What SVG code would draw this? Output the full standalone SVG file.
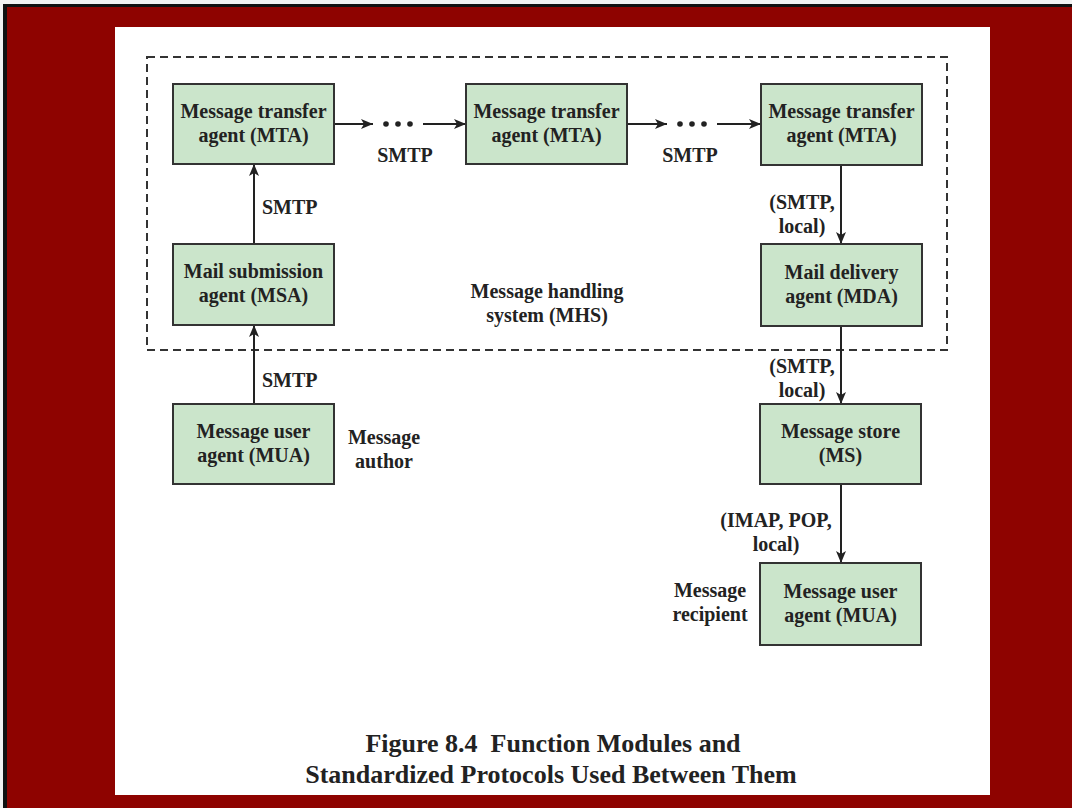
<svg xmlns="http://www.w3.org/2000/svg" width="1072" height="808" viewBox="0 0 1072 808">
  <style>
    .box { fill: #cbe5cb; stroke: #333333; stroke-width: 2; }
    .lbl { font-family: "Liberation Serif", "Times New Roman", serif; font-weight: bold; font-size: 20px; fill: #222222; }
    .mid { text-anchor: middle; }
    .cap { font-family: "Liberation Serif", "Times New Roman", serif; font-weight: bold; font-size: 26px; fill: #222222; text-anchor: middle; }
    .edge { stroke: #222222; stroke-width: 2; fill: none; }
    .dot { fill: #222222; }
  </style>
  <defs>
    <marker id="arrow" viewBox="0 0 12 10" refX="12" refY="5" markerWidth="12" markerHeight="10" markerUnits="userSpaceOnUse" orient="auto">
      <path d="M0,0 L12,5 L0,10 L3,5 Z" fill="#222222"/>
    </marker>
  </defs>

  <!-- frame -->
  <rect x="0" y="0" width="1072" height="808" fill="#f2f2f2"/>
  <rect x="3" y="4" width="1069" height="804" fill="#111111"/>
  <rect x="7" y="7" width="1065" height="801" fill="#8e0300"/>
  <rect x="115" y="27" width="875" height="768" fill="#ffffff"/>

  <!-- message handling system boundary -->
  <g id="mhs">
    <rect x="147" y="57" width="800" height="293" fill="none" stroke="#333333" stroke-width="2" stroke-dasharray="8,5"/>
    <text class="lbl mid" x="547" y="298">Message handling</text>
    <text class="lbl mid" x="547" y="322">system (MHS)</text>
  </g>

  <!-- connectors -->
  <g id="connectors">
    <line class="edge" x1="334" y1="124" x2="373" y2="124" marker-end="url(#arrow)"/>
    <circle class="dot" cx="386" cy="124" r="2.8"/>
    <circle class="dot" cx="398" cy="124" r="2.8"/>
    <circle class="dot" cx="410" cy="124" r="2.8"/>
    <line class="edge" x1="423" y1="124" x2="466" y2="124" marker-end="url(#arrow)"/>
    <text class="lbl mid" x="405" y="162">SMTP</text>

    <line class="edge" x1="627" y1="124" x2="667" y2="124" marker-end="url(#arrow)"/>
    <circle class="dot" cx="680" cy="124" r="2.8"/>
    <circle class="dot" cx="692" cy="124" r="2.8"/>
    <circle class="dot" cx="704" cy="124" r="2.8"/>
    <line class="edge" x1="717" y1="124" x2="761" y2="124" marker-end="url(#arrow)"/>
    <text class="lbl mid" x="690" y="162">SMTP</text>

    <line class="edge" x1="254" y1="244" x2="254" y2="164" marker-end="url(#arrow)"/>
    <text class="lbl" x="262" y="214">SMTP</text>

    <line class="edge" x1="254" y1="404" x2="254" y2="325" marker-end="url(#arrow)"/>
    <text class="lbl" x="262" y="387">SMTP</text>

    <line class="edge" x1="841" y1="165" x2="841" y2="244" marker-end="url(#arrow)"/>
    <text class="lbl mid" x="802" y="209">(SMTP,</text>
    <text class="lbl mid" x="802" y="233">local)</text>

    <line class="edge" x1="841" y1="326" x2="841" y2="404" marker-end="url(#arrow)"/>
    <text class="lbl mid" x="802" y="373">(SMTP,</text>
    <text class="lbl mid" x="802" y="397">local)</text>

    <line class="edge" x1="841" y1="484" x2="841" y2="563" marker-end="url(#arrow)"/>
    <text class="lbl mid" x="776" y="527">(IMAP, POP,</text>
    <text class="lbl mid" x="776" y="551">local)</text>
  </g>

  <!-- nodes -->
  <g id="mta1">
    <rect class="box" x="173" y="84" width="161" height="80"/>
    <text class="lbl mid" x="253.5" y="118">Message transfer</text>
    <text class="lbl mid" x="253.5" y="142">agent (MTA)</text>
  </g>
  <g id="mta2">
    <rect class="box" x="466" y="84" width="161" height="80"/>
    <text class="lbl mid" x="546.5" y="118">Message transfer</text>
    <text class="lbl mid" x="546.5" y="142">agent (MTA)</text>
  </g>
  <g id="mta3">
    <rect class="box" x="761" y="84" width="161" height="81"/>
    <text class="lbl mid" x="841.5" y="118">Message transfer</text>
    <text class="lbl mid" x="841.5" y="142">agent (MTA)</text>
  </g>
  <g id="msa">
    <rect class="box" x="173" y="244" width="161" height="81"/>
    <text class="lbl mid" x="253.5" y="278">Mail submission</text>
    <text class="lbl mid" x="253.5" y="302">agent (MSA)</text>
  </g>
  <g id="mda">
    <rect class="box" x="761" y="244" width="161" height="82"/>
    <text class="lbl mid" x="841.5" y="279">Mail delivery</text>
    <text class="lbl mid" x="841.5" y="303">agent (MDA)</text>
  </g>
  <g id="mua-author">
    <rect class="box" x="173" y="404" width="161" height="80"/>
    <text class="lbl mid" x="253.5" y="438">Message user</text>
    <text class="lbl mid" x="253.5" y="462">agent (MUA)</text>
    <text class="lbl mid" x="384" y="444">Message</text>
    <text class="lbl mid" x="384" y="468">author</text>
  </g>
  <g id="ms">
    <rect class="box" x="760" y="404" width="161" height="80"/>
    <text class="lbl mid" x="840.5" y="438">Message store</text>
    <text class="lbl mid" x="840.5" y="462">(MS)</text>
  </g>
  <g id="mua-recipient">
    <rect class="box" x="760" y="563" width="161" height="82"/>
    <text class="lbl mid" x="840.5" y="598">Message user</text>
    <text class="lbl mid" x="840.5" y="622">agent (MUA)</text>
    <text class="lbl mid" x="710" y="597">Message</text>
    <text class="lbl mid" x="710" y="621">recipient</text>
  </g>

  <!-- caption -->
  <g id="caption">
    <text class="cap" x="553" y="752" xml:space="preserve">Figure 8.4  Function Modules and</text>
    <text class="cap" x="551" y="783">Standardized Protocols Used Between Them</text>
  </g>
</svg>
